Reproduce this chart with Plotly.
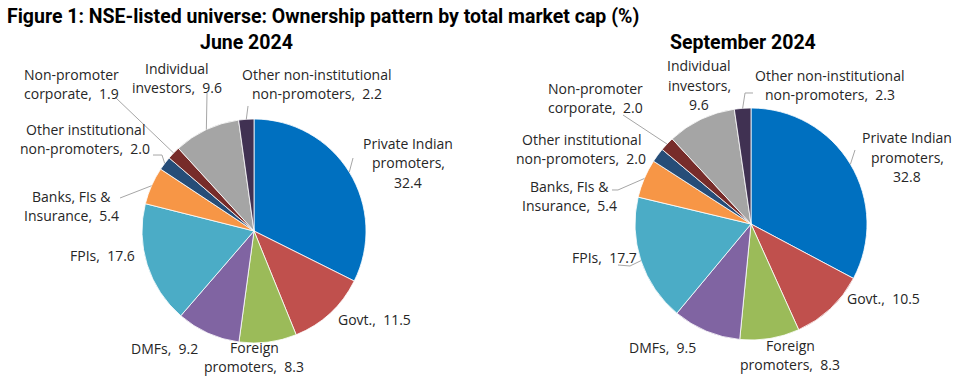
import math
import plotly.graph_objects as go

# ---------------- data ----------------
categories = ["Private Indian promoters", "Govt.", "Foreign promoters", "DMFs", "FPIs",
              "Banks, FIs & Insurance", "Other institutional non-promoters",
              "Non-promoter corporate", "Individual investors",
              "Other non-institutional non-promoters"]
june_2024 = [32.4, 11.5, 8.3, 9.2, 17.6, 5.4, 2.0, 1.9, 9.6, 2.2]
sept_2024 = [32.8, 10.5, 8.3, 9.5, 17.7, 5.4, 2.0, 2.0, 9.6, 2.3]
colors = ["#0070C0", "#C0504D", "#9BBB59", "#8064A2", "#4BACC6",
          "#F79646", "#264D78", "#772C2A", "#A5A5A5", "#403152"]

# label text (line breaks as in the reference)
june_label_lines = [
    ["Private Indian", "promoters,", "32.4"],
    ["Govt.,  11.5"],
    ["Foreign", "promoters,  8.3"],
    ["DMFs,  9.2"],
    ["FPIs,  17.6"],
    ["Banks, FIs &", "Insurance,  5.4"],
    ["Other institutional", "non-promoters,  2.0"],
    ["Non-promoter", "corporate,  1.9"],
    ["Individual", "investors,  9.6"],
    ["Other non-institutional", "non-promoters,  2.2"],
]
sept_label_lines = [
    ["Private Indian", "promoters,", "32.8"],
    ["Govt.,  10.5"],
    ["Foreign", "promoters,  8.3"],
    ["DMFs,  9.5"],
    ["FPIs,  17.7"],
    ["Banks, FIs &", "Insurance,  5.4"],
    ["Other institutional", "non-promoters,  2.0"],
    ["Non-promoter", "corporate,  2.0"],
    ["Individual", "investors,", "9.6"],
    ["Other non-institutional", "non-promoters,  2.3"],
]

# ---------------- layout constants (pixels) ----------------
W, H = 958, 378
LINE_H = 19.5
FONT = "Open Sans"
LABEL_SIZE = 14
HEAD_FONT = "Roboto"

pies = [
    dict(values=june_2024, lines=june_label_lines, cx=254, cy=231, r=112,
         title="June 2024", tx=246, ty=43,
         label_pos=[(408, 163), (374, 319), (254, 357), (164, 348), (102, 255),
                    (71, 206), (85, 139), (71, 84), (177, 78), (317, 84)],
         leaders={0: [(353, 158)], 5: [(120, 198)], 6: [(153, 155), (162, 155)],
                  7: [(115, 97)], 8: [(207, 93)], 9: [(248, 106)]}),
    dict(values=sept_2024, lines=sept_label_lines, cx=751, cy=224, r=116,
         title="September 2024", tx=743, ty=42,
         label_pos=[(907, 157), (883, 298), (790, 355), (662, 347), (604, 257),
                    (569, 196), (581, 149), (595, 98), (699, 85), (830, 85)],
         leaders={0: [(855, 150)], 4: [(618, 265), (630, 266)], 5: [(612, 190), (618, 190)],
                  7: [(623, 115)], 9: [(753, 93), (745, 93)]}),
]


def px(x):
    return x / W


def py(y):
    return 1 - y / H


fig = go.Figure()
annotations = []
shapes = []

for p in pies:
    cx, cy, r = p["cx"], p["cy"], p["r"]
    fig.add_trace(go.Pie(
        values=p["values"], labels=categories, sort=False, direction="clockwise",
        rotation=0, textinfo="none", hoverinfo="label+value",
        marker=dict(colors=colors, line=dict(color="white", width=0.8)),
        domain=dict(x=[px(cx - r), px(cx + r)], y=[py(cy + r), py(cy - r)]),
        showlegend=False,
    ))
    # subtitle
    annotations.append(dict(x=px(p["tx"]), y=py(p["ty"]), xref="paper", yref="paper",
                            text="<b>%s</b>" % p["title"], showarrow=False,
                            font=dict(family=HEAD_FONT, size=19.5, color="black"),
                            xanchor="center", yanchor="middle"))
    # data labels
    for (lx, ly), lines in zip(p["label_pos"], p["lines"]):
        n = len(lines)
        for k, t in enumerate(lines):
            yy = ly + (k - (n - 1) / 2) * LINE_H
            annotations.append(dict(x=px(lx), y=py(yy), xref="paper", yref="paper",
                                    text=t.replace("  ", "\u00a0 "), showarrow=False,
                                    font=dict(family=FONT, size=LABEL_SIZE, color="#262626"),
                                    xanchor="center", yanchor="middle"))
    # leader lines: from label side to slice edge at mid-angle (computed from data)
    total = sum(p["values"])
    cum = 0
    mids = []
    for v in p["values"]:
        mids.append((cum + v / 2) / total * 2 * math.pi)
        cum += v
    for idx, pts in p["leaders"].items():
        a = mids[idx]
        ex, ey = cx + r * math.sin(a), cy - r * math.cos(a)
        all_pts = pts + [(ex, ey)]
        path = "M " + " L ".join("%.4f,%.4f" % (px(x), py(y)) for x, y in all_pts)
        shapes.append(dict(type="path", path=path, xref="paper", yref="paper",
                           line=dict(color="#A6A6A6", width=1)))

# main title
annotations.append(dict(x=px(5), y=py(16), xref="paper", yref="paper",
                        text="<b>Figure 1: NSE-listed universe: Ownership pattern by total market cap (%)</b>",
                        showarrow=False, font=dict(family=HEAD_FONT, size=19.5, color="black"),
                        xanchor="left", yanchor="middle"))

fig.update_layout(
    width=W, height=H, margin=dict(l=0, r=0, t=0, b=0),
    paper_bgcolor="white", plot_bgcolor="white",
    annotations=annotations, shapes=shapes,
)

fig.write_html("out.html", config={"displayModeBar": False},
               post_script="document.body.style.margin='0';document.body.style.overflow='hidden';")
